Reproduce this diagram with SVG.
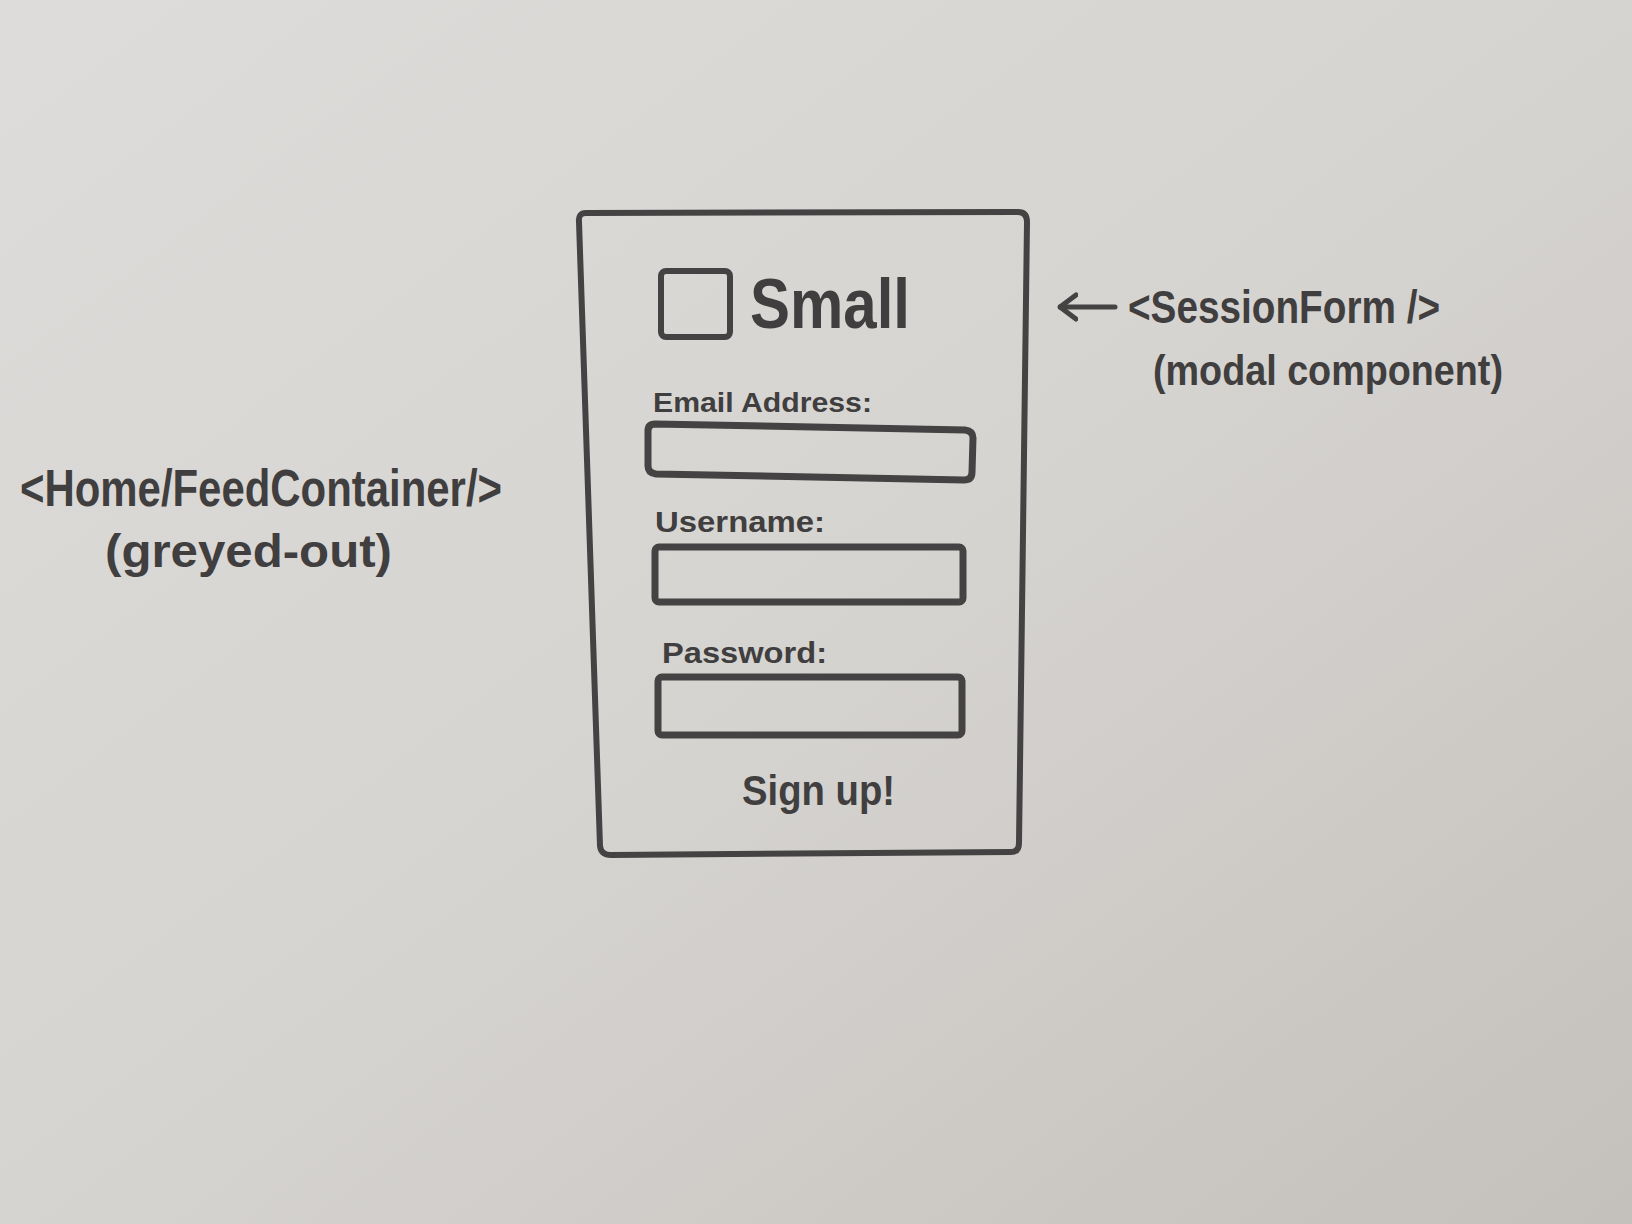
<svg xmlns="http://www.w3.org/2000/svg" width="1632" height="1224" viewBox="0 0 1632 1224">
  <defs>
    <linearGradient id="paper" x1="0" y1="0" x2="1" y2="1">
      <stop offset="0" stop-color="#dedcda"/>
      <stop offset="0.5" stop-color="#d6d4d1"/>
      <stop offset="1" stop-color="#c4c0bc"/>
    </linearGradient>
    <marker id="chevron" viewBox="0 0 20 30" refX="18" refY="15" markerWidth="20" markerHeight="30" markerUnits="userSpaceOnUse" orient="auto">
      <path d="M 2 3 L 18 15 L 2 27" fill="none" stroke="#444242" stroke-width="5" stroke-linecap="round" stroke-linejoin="round"/>
    </marker>
    <style>
      .ink { fill: none; stroke: #444242; stroke-linecap: round; stroke-linejoin: round; }
      .frame { stroke-width: 6; }
      .field { stroke-width: 7; }
      .hand { font-family: "Liberation Sans", "DejaVu Sans", sans-serif; font-weight: 700; fill: #403e3e; }
    </style>
  </defs>

  <!-- paper -->
  <rect width="1632" height="1224" fill="url(#paper)"/>

  <!-- modal window -->
  <g id="session-form">
    <path class="ink frame" d="M 586 213 Q 578 213 579 222 L 600 846 Q 601 855 611 855 L 1011 852 Q 1019 852 1019 843 L 1027 222 Q 1027 212 1018 212 Z"/>
    <g id="logo">
      <rect class="ink frame" x="661" y="271" width="69" height="66" rx="5"/>
      <text class="hand" x="750" y="328" font-size="70" textLength="160" lengthAdjust="spacingAndGlyphs">Small</text>
    </g>
    <g id="email-field">
      <text class="hand" x="653" y="412" font-size="28" textLength="219" lengthAdjust="spacingAndGlyphs">Email Address:</text>
      <path class="ink field" d="M 655 424 L 965 430 Q 973 431 973 438 L 972 472 Q 972 480 964 480 L 656 474 Q 648 473 648 466 L 648 431 Q 648 424 655 424 Z"/>
    </g>
    <g id="username-field">
      <text class="hand" x="655" y="532" font-size="30" textLength="170" lengthAdjust="spacingAndGlyphs">Username:</text>
      <rect class="ink field" x="655" y="547" width="308" height="55" rx="4"/>
    </g>
    <g id="password-field">
      <text class="hand" x="662" y="663" font-size="30" textLength="165" lengthAdjust="spacingAndGlyphs">Password:</text>
      <rect class="ink field" x="658" y="677" width="304" height="58" rx="4"/>
    </g>
    <g id="submit">
      <text class="hand" x="742" y="805" font-size="42" textLength="153" lengthAdjust="spacingAndGlyphs">Sign up!</text>
    </g>
  </g>

  <!-- labels -->
  <g id="session-form-label">
    <text class="hand" x="1128" y="323" font-size="46" textLength="312" lengthAdjust="spacingAndGlyphs">&lt;SessionForm /&gt;</text>
    <text class="hand" x="1153" y="385" font-size="42" textLength="350" lengthAdjust="spacingAndGlyphs">(modal component)</text>
  </g>
  <g id="home-feed-label">
    <text class="hand" x="20" y="506" font-size="52" textLength="482" lengthAdjust="spacingAndGlyphs">&lt;Home/FeedContainer/&gt;</text>
    <text class="hand" x="105" y="567" font-size="46" textLength="287" lengthAdjust="spacingAndGlyphs">(greyed-out)</text>
  </g>

  <!-- connectors -->
  <g id="connectors">
    <path class="ink" stroke-width="5" d="M 1115 307 L 1060 307" marker-end="url(#chevron)"/>
  </g>
</svg>
